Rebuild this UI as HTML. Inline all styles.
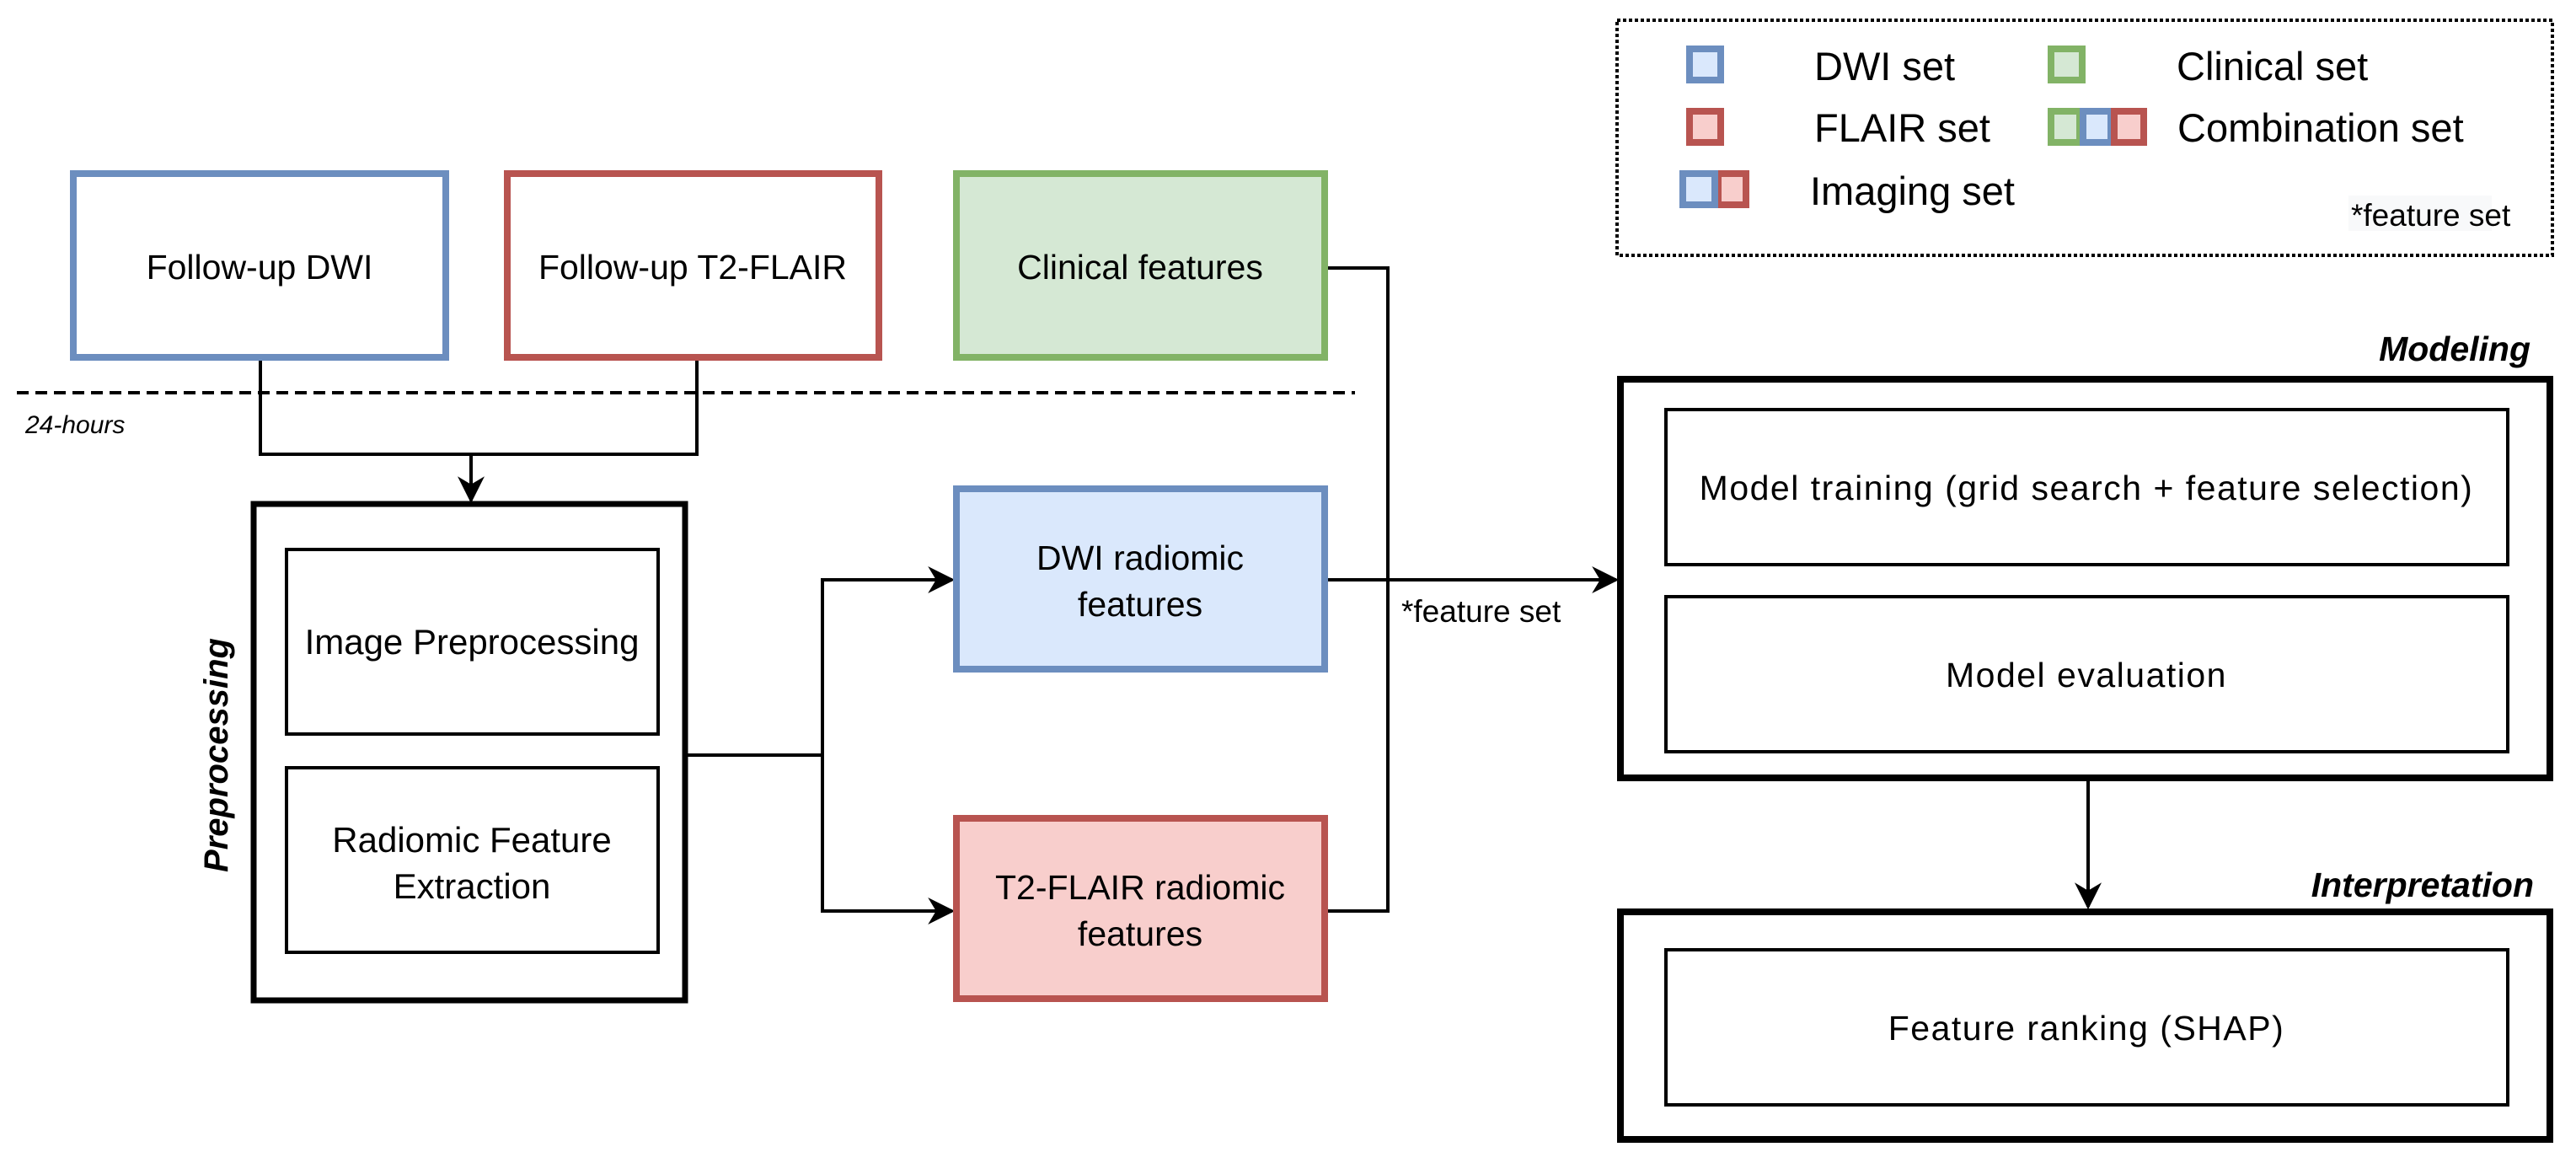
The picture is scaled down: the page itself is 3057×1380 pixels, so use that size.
<!DOCTYPE html>
<html><head><meta charset="utf-8"><style>
html,body{margin:0;padding:0;background:#fff;}
svg{display:block;}
text{font-family:"Liberation Sans",Arial,sans-serif;fill:#000;}
</style></head><body>
<svg width="3057" height="1380" viewBox="0 0 3057 1380" xmlns="http://www.w3.org/2000/svg">
<defs>
<marker id="ar" viewBox="0 0 10 10" refX="9" refY="5" markerWidth="8" markerHeight="8" markerUnits="strokeWidth" orient="auto">
<path d="M0,0 L10,5 L0,10 L3,5 Z" fill="#000"/>
</marker>
</defs>
<rect width="3057" height="1380" fill="#fff"/>

<!-- Legend -->
<rect x="1919" y="24" width="1110" height="279" fill="none" stroke="#000" stroke-width="4" stroke-dasharray="4,3"/>
<rect x="2005" y="58" width="37" height="37" fill="#dae8fc" stroke="#6c8ebf" stroke-width="8"/>
<text x="2153" y="95" font-size="47">DWI set</text>
<rect x="2005" y="132" width="37" height="37" fill="#f8cecc" stroke="#b85450" stroke-width="8"/>
<text x="2153" y="168" font-size="47">FLAIR set</text>
<rect x="2039" y="206" width="33" height="37" fill="#f8cecc" stroke="#b85450" stroke-width="8"/>
<rect x="1997" y="206" width="38" height="37" fill="#dae8fc" stroke="#6c8ebf" stroke-width="8"/>
<text x="2148" y="243" font-size="47">Imaging set</text>
<rect x="2434" y="58" width="37" height="37" fill="#d5e8d4" stroke="#82b366" stroke-width="8"/>
<text x="2583" y="95" font-size="47">Clinical set</text>
<rect x="2434" y="132" width="34" height="37" fill="#d5e8d4" stroke="#82b366" stroke-width="8"/>
<rect x="2472" y="132" width="33" height="37" fill="#dae8fc" stroke="#6c8ebf" stroke-width="8"/>
<rect x="2509" y="132" width="35" height="37" fill="#f8cecc" stroke="#b85450" stroke-width="8"/>
<text x="2584" y="168" font-size="47">Combination set</text>
<rect x="2787" y="232" width="170" height="42" fill="#f8f9fa"/>
<text x="2790" y="268" font-size="37">*feature set</text>

<!-- Top boxes -->
<rect x="87" y="206" width="442" height="218" fill="#fff" stroke="#6c8ebf" stroke-width="8"/>
<text x="308" y="331" font-size="41" text-anchor="middle">Follow-up DWI</text>
<rect x="602" y="206" width="441" height="218" fill="#fff" stroke="#b85450" stroke-width="8"/>
<text x="822" y="331" font-size="41" text-anchor="middle">Follow-up T2-FLAIR</text>
<rect x="1135" y="206" width="437" height="218" fill="#d5e8d4" stroke="#82b366" stroke-width="8"/>
<text x="1353" y="331" font-size="41" text-anchor="middle">Clinical features</text>

<!-- dashed line -->
<line x1="20" y1="466" x2="1608" y2="466" stroke="#000" stroke-width="4" stroke-dasharray="14,8"/>
<text x="30" y="514" font-size="30" font-style="italic">24-hours</text>

<!-- connectors to preprocessing -->
<polyline points="309,428 309,539 827,539 827,428" fill="none" stroke="#000" stroke-width="4"/>
<line x1="559" y1="539" x2="559" y2="594" stroke="#000" stroke-width="4" marker-end="url(#ar)"/>

<!-- Preprocessing -->
<rect x="301" y="598" width="512" height="589" fill="#fff" stroke="#000" stroke-width="7"/>
<rect x="340" y="652" width="441" height="219" fill="#fff" stroke="#000" stroke-width="4"/>
<text x="560" y="776" font-size="42" text-anchor="middle">Image Preprocessing</text>
<rect x="340" y="911" width="441" height="219" fill="#fff" stroke="#000" stroke-width="4"/>
<text x="560" y="1011" font-size="42" text-anchor="middle">Radiomic Feature</text>
<text x="560" y="1066" font-size="42" text-anchor="middle">Extraction</text>
<text transform="translate(270,896) rotate(-90)" font-size="40" font-weight="bold" font-style="italic" text-anchor="middle">Preprocessing</text>

<!-- split -->
<polyline points="816,896 976,896" fill="none" stroke="#000" stroke-width="4"/>
<polyline points="976,1081 976,688 1130,688" fill="none" stroke="#000" stroke-width="4" marker-end="url(#ar)"/>
<polyline points="976,896 976,1081 1130,1081" fill="none" stroke="#000" stroke-width="4" marker-end="url(#ar)"/>

<!-- radiomic boxes -->
<rect x="1135" y="580" width="437" height="214" fill="#dae8fc" stroke="#6c8ebf" stroke-width="8"/>
<text x="1353" y="676" font-size="41" text-anchor="middle">DWI radiomic</text>
<text x="1353" y="731" font-size="41" text-anchor="middle">features</text>
<rect x="1135" y="971" width="437" height="214" fill="#f8cecc" stroke="#b85450" stroke-width="8"/>
<text x="1353" y="1067" font-size="41" text-anchor="middle">T2-FLAIR radiomic</text>
<text x="1353" y="1122" font-size="41" text-anchor="middle">features</text>

<!-- clinical & flair line -->
<polyline points="1576,318 1647,318 1647,1081 1576,1081" fill="none" stroke="#000" stroke-width="4"/>
<line x1="1576" y1="688" x2="1918" y2="688" stroke="#000" stroke-width="4" marker-end="url(#ar)"/>
<text x="1663" y="738" font-size="37">*feature set</text>

<!-- Modeling -->
<text x="3003" y="428" font-size="41" font-weight="bold" font-style="italic" text-anchor="end">Modeling</text>
<rect x="1923" y="450" width="1103" height="473" fill="#fff" stroke="#000" stroke-width="8"/>
<rect x="1977" y="486" width="999" height="184" fill="#fff" stroke="#000" stroke-width="4"/>
<text x="2476" y="593" font-size="41" letter-spacing="1.5" text-anchor="middle">Model training (grid search + feature selection)</text>
<rect x="1977" y="708" width="999" height="184" fill="#fff" stroke="#000" stroke-width="4"/>
<text x="2476" y="815" font-size="41" letter-spacing="1.5" text-anchor="middle">Model evaluation</text>

<line x1="2478" y1="927" x2="2478" y2="1076" stroke="#000" stroke-width="4" marker-end="url(#ar)"/>

<!-- Interpretation -->
<text x="3007" y="1064" font-size="41" font-weight="bold" font-style="italic" text-anchor="end">Interpretation</text>
<rect x="1923" y="1082" width="1103" height="270" fill="#fff" stroke="#000" stroke-width="8"/>
<rect x="1977" y="1127" width="999" height="184" fill="#fff" stroke="#000" stroke-width="4"/>
<text x="2476" y="1234" font-size="41" letter-spacing="1.5" text-anchor="middle">Feature ranking (SHAP)</text>
</svg>
</body></html>
